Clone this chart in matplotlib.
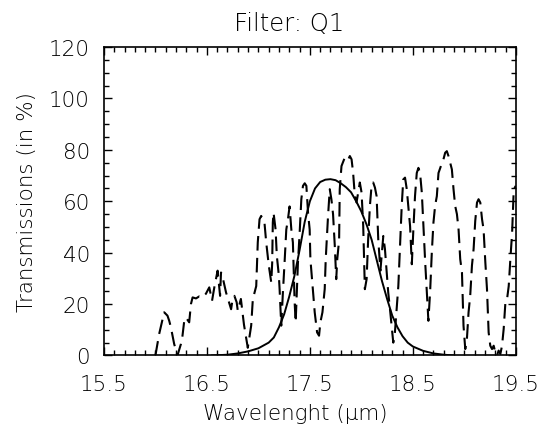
import numpy as np
from matplotlib import pyplot as plt
from matplotlib.ticker import MultipleLocator

# filter Q1 transmission (solid)
filt_wl = [16.55, 16.7, 16.8, 16.9, 17.0, 17.1, 17.15, 17.2, 17.25, 17.3,
           17.35, 17.4, 17.45, 17.5, 17.55, 17.6, 17.65, 17.7, 17.75, 17.8,
           17.85, 17.9, 17.95, 18.0, 18.05, 18.1, 18.15, 18.2, 18.25, 18.3,
           18.35, 18.4, 18.45, 18.5, 18.6, 18.7, 18.8, 18.9]
filt_tr = [0.0, 0.3, 0.8, 1.6, 2.8, 5.0, 7.0, 11.0, 16.0, 23.0,
           31.0, 41.0, 52.0, 60.0, 65.0, 67.5, 68.4, 68.6, 68.2, 67.0,
           65.5, 63.5, 60.0, 56.0, 51.0, 45.0, 37.0, 29.0, 22.0, 15.5,
           11.0, 7.5, 5.0, 3.5, 1.8, 0.8, 0.3, 0.0]

# atmospheric transmission (dashed)
atm_wl = [16.00, 16.036, 16.085, 16.117, 16.134, 16.150, 16.182, 16.214, 16.248, 16.263,
          16.280, 16.296, 16.328, 16.345, 16.361, 16.394, 16.426, 16.458, 16.49, 16.523,
          16.550, 16.572, 16.604, 16.628, 16.637, 16.653, 16.686, 16.735, 16.750, 16.767,
          16.789, 16.80, 16.83, 16.86, 16.897, 16.930, 16.946, 16.979, 16.994, 17.011,
          17.027, 17.043, 17.059, 17.076, 17.101, 17.125, 17.134, 17.140, 17.147, 17.167,
          17.179, 17.199, 17.206, 17.222, 17.238, 17.254, 17.271, 17.287, 17.303, 17.320,
          17.335, 17.352, 17.362, 17.384, 17.401, 17.417, 17.433, 17.45, 17.466, 17.482,
          17.498, 17.505, 17.547, 17.570, 17.589, 17.602, 17.622, 17.644, 17.654, 17.676,
          17.693, 17.709, 17.725, 17.742, 17.756, 17.766, 17.784, 17.790, 17.807, 17.839,
          17.870, 17.888, 17.905, 17.920, 17.937, 17.953, 17.969, 17.985, 18.002, 18.018,
          18.034, 18.051, 18.066, 18.083, 18.099, 18.115, 18.132, 18.148, 18.164, 18.185,
          18.200, 18.213, 18.229, 18.246, 18.261, 18.278, 18.310, 18.326, 18.359, 18.375,
          18.392, 18.407, 18.424, 18.441, 18.456, 18.473, 18.490, 18.505, 18.521, 18.538,
          18.554, 18.570, 18.587, 18.603, 18.620, 18.651, 18.668, 18.684, 18.700, 18.716,
          18.733, 18.749, 18.775, 18.797, 18.814, 18.830, 18.846, 18.879, 18.895, 18.911,
          18.928, 18.944, 18.960, 18.977, 18.992, 19.009, 19.025, 19.041, 19.057, 19.074,
          19.090, 19.106, 19.123, 19.138, 19.155, 19.172, 19.187, 19.204, 19.220, 19.236,
          19.252, 19.269, 19.285, 19.301, 19.317, 19.333, 19.350, 19.366, 19.382, 19.399,
          19.415, 19.431, 19.447, 19.464, 19.480, 19.50]
atm_tr = [0.0, 8.3, 16.8, 15.5, 13.5, 11.0, 4.5, 0.0, 4.5, 7.7,
          13.5, 14.8, 12.9, 20.0, 22.6, 22.2, 23.0, 22.6, 24.0, 26.5,
          21.3, 26.5, 33.0, 23.2, 32.3, 30.4, 24.5, 18.0, 22.0, 23.2,
          20.7, 17.4, 22.0, 12.0, 3.0, 11.6, 21.9, 27.0, 44.0, 53.0,
          54.3, 53.0, 51.7, 44.0, 35.0, 28.4, 36.0, 51.7, 55.6, 49.0,
          38.8, 31.0, 25.8, 11.6, 24.5, 36.0, 49.0, 53.0, 58.0, 49.0,
          44.0, 20.7, 12.9, 36.0, 48.0, 60.8, 66.0, 67.0, 66.0, 55.6,
          49.0, 37.5, 16.8, 9.0, 7.7, 12.9, 16.8, 25.8, 37.5, 54.0,
          64.7, 60.8, 55.0, 42.6, 29.7, 37.5, 45.0, 64.7, 73.7, 77.0,
          76.0, 77.6, 76.3, 71.0, 62.0, 59.5, 63.4, 67.3, 63.4, 50.4,
          25.8, 29.7, 45.2, 58.2, 66.0, 67.3, 65.3, 62.0, 45.2, 33.0,
          40.0, 46.5, 41.4, 32.3, 24.5, 18.0, 5.0, 9.0, 27.0, 42.6,
          58.2, 68.5, 69.2, 64.7, 58.2, 50.4, 35.5, 49.0, 62.0, 71.0,
          73.0, 71.0, 63.4, 50.4, 36.2, 13.5, 25.0, 40.0, 51.7, 58.2,
          62.0, 71.0, 74.0, 76.3, 78.9, 79.5, 77.6, 72.4, 64.7, 58.2,
          55.0, 49.0, 37.5, 32.3, 11.6, 2.5, 6.4, 16.8, 23.2, 35.0,
          41.4, 52.4, 59.5, 60.8, 59.5, 53.0, 49.0, 36.2, 25.8, 9.0,
          3.8, 2.5, 3.8, 1.2, 0.0, 1.9, 0.6, 3.8, 10.3, 20.7,
          22.0, 27.0, 37.5, 47.8, 64.7, 66.0]

plt.rcParams['font.family'] = ['DejaVu Sans']
plt.rcParams['font.weight'] = 'light'
plt.rcParams['axes.titleweight'] = 'light'
plt.rcParams['axes.labelweight'] = 'light'

fig = plt.figure(figsize=(5.47, 4.35), dpi=100)
ax = fig.add_axes([0.19, 0.1805, 0.753, 0.709])

ax.plot(atm_wl, atm_tr, color='black', lw=1.5, dashes=(7, 3.5))
ax.plot(filt_wl, filt_tr, color='black', lw=1.4)

ax.set_xlim(15.5, 19.5)
ax.set_ylim(0, 120)
ax.xaxis.set_minor_locator(MultipleLocator(0.1))
ax.yaxis.set_major_locator(MultipleLocator(20))
ax.yaxis.set_minor_locator(MultipleLocator(5))
ax.set_xticks([15.5, 16.5, 17.5, 18.5, 19.5])
ax.set_xticklabels(['15.5', '16.5', '17.5', '18.5', '19.5'])

ax.tick_params(which='both', direction='in', top=True, right=True,
               width=1.0, colors='black', labelsize=15.5)
ax.tick_params(which='major', length=6)
ax.tick_params(which='minor', length=3.5)
ax.tick_params(axis='x', which='major', pad=13)
ax.tick_params(axis='y', which='major', pad=10)
for s in ax.spines.values():
    s.set_linewidth(1.2)

ax.set_title('Filter: Q1', fontsize=17.5, pad=12, x=0.45)
ax.set_xlabel('Wavelenght (μm)', fontsize=15.5, labelpad=5)
ax.xaxis.set_label_coords(0.465, -0.155)
ax.set_ylabel('Transmissions (in %)', fontsize=15.5, labelpad=9)

fig.savefig('out.png', dpi=100)
